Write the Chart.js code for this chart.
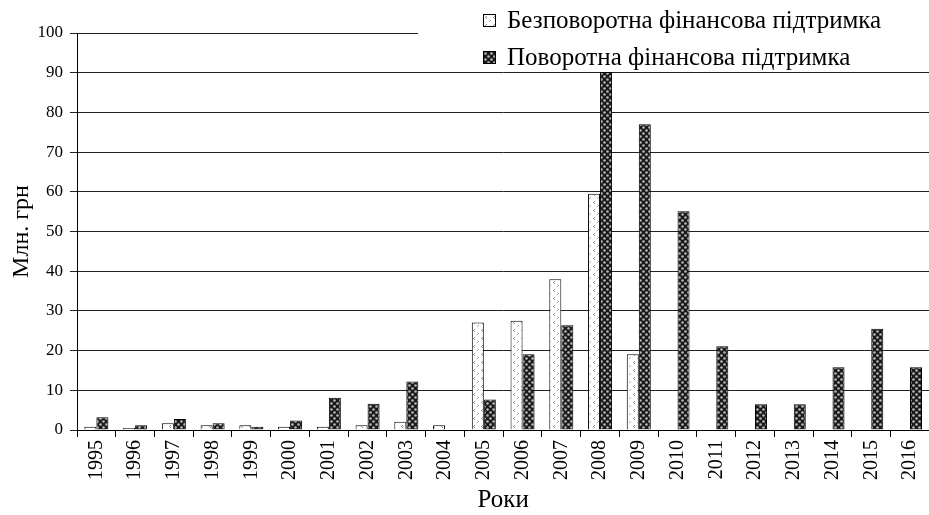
<!DOCTYPE html>
<html>
<head>
<meta charset="utf-8">
<script src="https://cdn.jsdelivr.net/npm/chart.js@4"></script>
<style>
  html, body { margin: 0; padding: 0; background: #fff; overflow: hidden; }
  #wrap { position: relative; width: 929px; height: 515px; overflow: hidden; }
  #miGrafico { position: absolute; left: 0; top: 0; }
  #leyenda { position: absolute; left: 418px; top: 0; width: 511px; height: 66px; background: #fff;
             font-family: 'Liberation Serif', 'Times New Roman', Times, serif; font-size: 25px; color: #000; }
  .fila { position: absolute; left: 65px; height: 28px; line-height: 28px; white-space: nowrap; }
  .caja { display: inline-block; width: 11px; height: 11px; border: 1px solid #000; vertical-align: middle;
          margin-right: 11px; position: relative; top: -2px; }
</style>
</head>
<body>
<div id="wrap">
  <canvas id="miGrafico" width="937" height="515"></canvas>
  <div id="leyenda">
    <div class="fila" style="top:6px"><span class="caja" id="caja1"></span>Безповоротна фінансова підтримка</div>
    <div class="fila" style="top:43px"><span class="caja" id="caja2"></span>Поворотна фінансова підтримка</div>
  </div>
</div>
<script>
const anios = ['1995', '1996', '1997', '1998', '1999', '2000', '2001', '2002', '2003', '2004', '2005',
    '2006', '2007', '2008', '2009', '2010', '2011', '2012', '2013', '2014', '2015', '2016'];
const bezpovorotna = [0.8, 0.5, 1.7, 1.2, 1.2, 0.8, 0.8, 1.2, 2.1, 1.2, 27.1,
    27.5, 38.0, 59.5, 19.1, 0, 0, 0, 0, 0, 0, 0];
const povorotna = [3.2, 1.2, 2.8, 1.7, 0.8, 2.4, 8.1, 6.6, 12.2, 0, 7.7,
    19.1, 26.4, 90.2, 77.0, 55.1, 21.1, 6.5, 6.5, 15.8, 25.5, 15.8];
const etiquetas = ['Безповоротна фінансова підтримка', 'Поворотна фінансова підтримка'];

// patrones de relleno
function patronClaro() {
    const c = document.createElement('canvas');
    c.width = 8; c.height = 8;
    const g = c.getContext('2d');
    g.fillStyle = '#fff';
    g.fillRect(0, 0, 8, 8);
    g.fillStyle = '#8a8a8a';
    g.fillRect(2, 1, 1, 1);
    g.fillRect(1, 2, 1, 1);
    g.fillRect(2, 3, 1, 1);
    g.fillStyle = '#b0b0b0';
    g.fillRect(6, 5, 1, 1);
    g.fillRect(5, 6, 1, 1);
    return c;
}
function patronOscuro() {
    const c = document.createElement('canvas');
    c.width = 6; c.height = 6;
    const g = c.getContext('2d');
    g.fillStyle = '#1a1a1a';
    g.fillRect(0, 0, 6, 6);
    g.fillStyle = '#b8b8b8';
    g.beginPath(); g.arc(1.5, 1.5, 1.3, 0, Math.PI * 2); g.fill();
    g.beginPath(); g.arc(4.5, 4.5, 1.3, 0, Math.PI * 2); g.fill();
    return c;
}

const contenedor = document.getElementById('miGrafico');
const ctx = contenedor.getContext('2d');
const t1 = patronClaro();
const t2 = patronOscuro();
document.getElementById('caja1').style.backgroundImage = 'url(' + t1.toDataURL() + ')';
document.getElementById('caja2').style.backgroundImage = 'url(' + t2.toDataURL() + ')';

Chart.defaults.font.family = "'Liberation Serif', 'Times New Roman', Times, serif";
Chart.defaults.color = '#000';

const miGrafico = new Chart(contenedor, {
    type: 'bar',
    data: {
        labels: anios,
        datasets: [{
            label: etiquetas[0],
            data: bezpovorotna,
            backgroundColor: ctx.createPattern(t1, 'repeat'),
            borderColor: '#000',
            borderWidth: 1
        }, {
            label: etiquetas[1],
            data: povorotna,
            backgroundColor: ctx.createPattern(t2, 'repeat'),
            borderColor: '#000',
            borderWidth: 1
        }]
    },
    options: {
        responsive: false,
        animation: false,
        categoryPercentage: 0.62,
        barPercentage: 1.0,
        layout: { padding: { top: 33, left: 0, right: 0, bottom: 0 } },
        plugins: {
            legend: { display: false },
            tooltip: { enabled: false }
        },
        scales: {
            x: {
                afterFit: (s) => { s.height = 85; },
                grid: { drawOnChartArea: false, color: '#000', tickLength: 7 },
                border: { color: '#000' },
                ticks: { maxRotation: 90, minRotation: 90, padding: 3, font: { size: 20 }, autoSkip: false },
                title: { display: true, text: 'Роки', font: { size: 25 }, padding: { top: 0, bottom: 0 } }
            },
            y: {
                min: 0,
                max: 100,
                afterFit: (s) => { s.width = 77; },
                grid: { color: '#222', tickLength: 7 },
                border: { color: '#000' },
                ticks: { stepSize: 10, padding: 7, font: { size: 17 } },
                title: { display: true, text: 'Млн. грн', font: { size: 24 }, padding: { top: 7, bottom: 0 } }
            }
        }
    }
});
</script>
</body>
</html>
